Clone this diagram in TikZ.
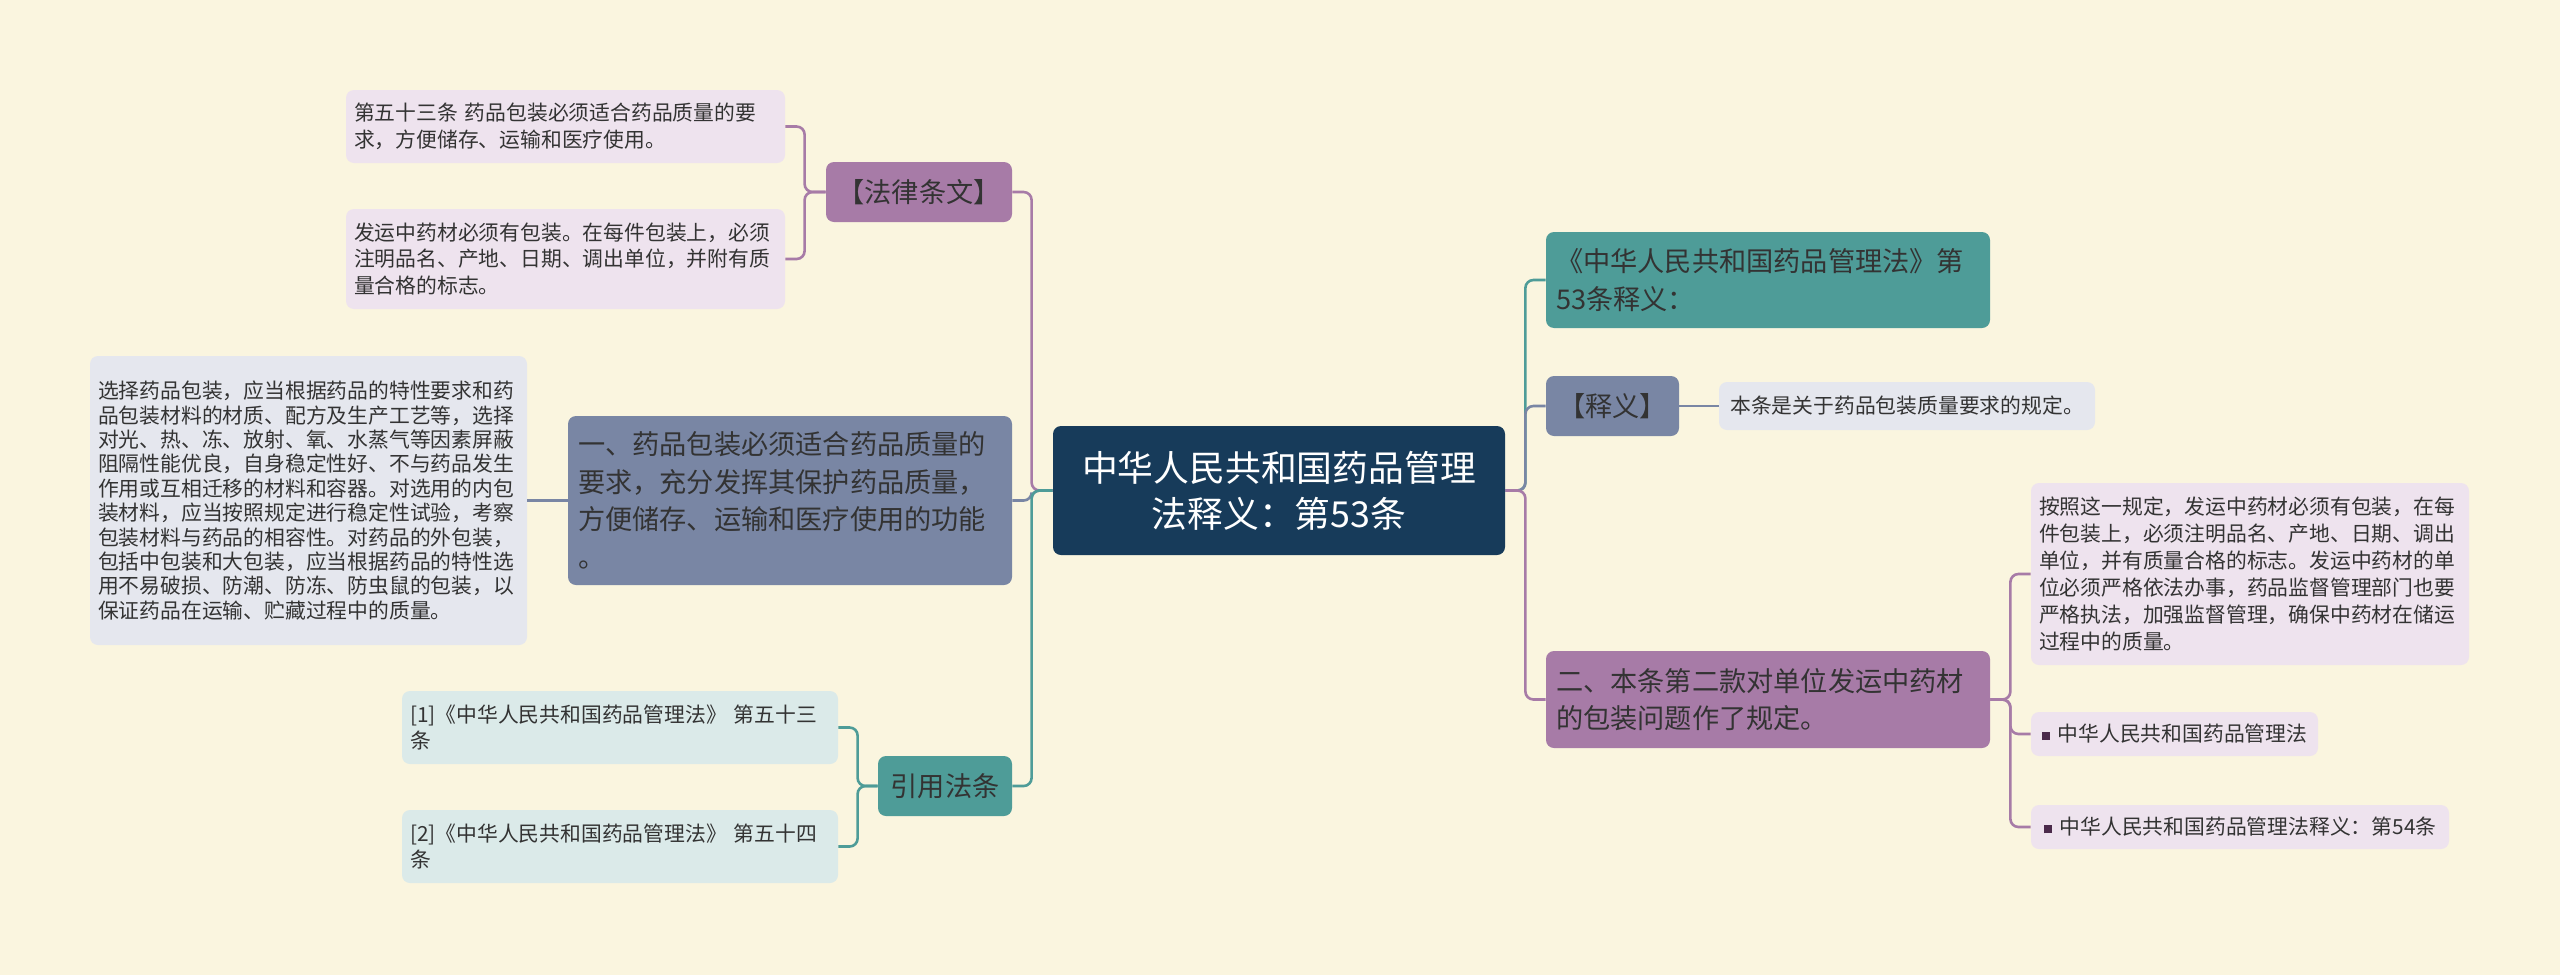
\documentclass[tikz,border=0pt]{standalone}
\usepackage{fontspec}
\setmainfont{Noto Sans CJK SC}
\usetikzlibrary{positioning}

\definecolor{paper}{HTML}{FAF5DF}
\definecolor{navy}{HTML}{173B5A}
\definecolor{plum}{HTML}{A77BA7}
\definecolor{slate}{HTML}{7986A4}
\definecolor{sea}{HTML}{4E9C98}
\definecolor{lplum}{HTML}{EEE3EE}
\definecolor{lslate}{HTML}{E5E7EE}
\definecolor{lsea}{HTML}{DBEAE9}
\definecolor{ink}{HTML}{333333}
\definecolor{dot}{HTML}{4B2A4B}

\newcommand{\sqdot}{\textcolor{dot}{\rule[0.08em]{0.42em}{0.42em}}\hspace{0.35em}}

\begin{document}
\begin{tikzpicture}[x = 0.5pt, y = -0.5pt,
    box/.style = {rounded corners = 4pt, inner xsep = 5pt, inner ysep = 3pt, text = ink, align = left},
    topic/.style = {box, fill = navy, text = white, align = center, font = \fontsize{17.9}{23}\selectfont},
    branch/.style = {box, font = \fontsize{13.6}{18.8}\selectfont},
    leaf/.style = {box, inner xsep = 4pt, font = \fontsize{10.4}{13.4}\selectfont},
    link/.style = {line width = 1.3pt, rounded corners = 4pt}]
            \fill[paper] (0,0) rectangle (2560,975);
            \node[topic, minimum width = 226pt, minimum height = 64.5pt] (root) at (1279,490.5) {中华人民共和国药品管理\\法释义：第53条};

            \node[branch, fill = plum, minimum width = 93pt, minimum height = 30pt] (law) at (919,192) {【法律条文】};
            \node[leaf, fill = lplum, text width = 211.5pt, minimum height = 36.5pt] (law1) at (565.5,126.5) {第五十三条 药品包装必须适合药品质量的要\\求，方便储存、运输和医疗使用。};
            \node[leaf, fill = lplum, text width = 211.5pt, minimum height = 50pt] (law2) at (565.5,259) {发运中药材必须有包装。在每件包装上，必须\\注明品名、产地、日期、调出单位，并附有质\\量合格的标志。};

            \node[branch, fill = slate, text width = 212pt, minimum height = 84.5pt] (one) at (790,500.5) {一、药品包装必须适合药品质量的\\要求，充分发挥其保护药品质量，\\方便储存、运输和医疗使用的功能\\。};
            \node[leaf, fill = lslate, text width = 210.5pt, minimum height = 144.5pt, font = \fontsize{10.4}{12.2}\selectfont] (oneleaf) at (308.5,500.5) {选择药品包装，应当根据药品的特性要求和药\\品包装材料的材质、配方及生产工艺等，选择\\对光、热、冻、放射、氧、水蒸气等因素屏蔽\\阻隔性能优良，自身稳定性好、不与药品发生\\作用或互相迁移的材料和容器。对选用的内包\\装材料，应当按照规定进行稳定性试验，考察\\包装材料与药品的相容性。对药品的外包装，\\包括中包装和大包装，应当根据药品的特性选\\用不易破损、防潮、防冻、防虫鼠的包装，以\\保证药品在运输、贮藏过程中的质量。};

            \node[branch, fill = sea, minimum width = 67pt, minimum height = 30pt] (cite) at (945,786) {引用法条};
            \node[leaf, fill = lsea, text width = 210pt, minimum height = 36.5pt] (ref1) at (620,727.5) {[1]《中华人民共和国药品管理法》 第五十三\\条};
            \node[leaf, fill = lsea, text width = 210pt, minimum height = 36.5pt] (ref2) at (620,846.5) {[2]《中华人民共和国药品管理法》 第五十四\\条};

            \node[branch, fill = sea, text width = 212pt, minimum height = 48pt] (title) at (1768,280) {《中华人民共和国药品管理法》第\\53条释义：};
            \node[branch, fill = slate, minimum width = 66.5pt, minimum height = 30pt] (note) at (1612.5,406) {【释义】};
            \node[leaf, fill = lslate, minimum width = 188pt, minimum height = 24pt] (noteleaf) at (1907,406) {本条是关于药品包装质量要求的规定。};

            \node[branch, fill = plum, text width = 212pt, minimum height = 48.5pt] (two) at (1768,699.5) {二、本条第二款对单位发运中药材\\的包装问题作了规定。};
            \node[leaf, fill = lplum, text width = 211pt, minimum height = 91pt, font = \fontsize{10.4}{13.5}\selectfont] (twoleaf) at (2250,574) {按照这一规定，发运中药材必须有包装，在每\\件包装上，必须注明品名、产地、日期、调出\\单位，并有质量合格的标志。发运中药材的单\\位必须严格依法办事，药品监督管理部门也要\\严格执法，加强监督管理，确保中药材在储运\\过程中的质量。};
            \node[leaf, fill = lplum, minimum width = 143.5pt, minimum height = 22pt] (lawa) at (2174.5,734) {\sqdot 中华人民共和国药品管理法};
            \node[leaf, fill = lplum, minimum width = 209pt, minimum height = 22pt] (lawb) at (2240,827) {\sqdot 中华人民共和国药品管理法释义：第54条};

            \draw[link, plum] (root.west) -- ++(-21,0) |- (law.east);
            \draw[link, slate] (root.west) -- ++(-21,0) |- (one.east);
            \draw[link, sea] (root.west) -- ++(-21,0) |- (cite.east);
            \draw[link, plum] (law.west) -- ++(-21,0) |- (law1.east);
            \draw[link, plum] (law.west) -- ++(-21,0) |- (law2.east);
            \draw[link, slate] (one.west) -- (oneleaf.east);
            \draw[link, sea] (cite.west) -- ++(-20,0) |- (ref1.east);
            \draw[link, sea] (cite.west) -- ++(-20,0) |- (ref2.east);

            \draw[link, sea] (root.east) -- ++(20,0) |- (title.west);
            \draw[link, slate] (root.east) -- ++(20,0) |- (note.west);
            \draw[link, plum] (root.east) -- ++(20,0) |- (two.west);
            \draw[link, slate] (note.east) -- (noteleaf.west);
            \draw[link, plum] (two.east) -- ++(20,0) |- (twoleaf.west);
            \draw[link, plum] (two.east) -- ++(20,0) |- (lawa.west);
            \draw[link, plum] (two.east) -- ++(20,0) |- (lawb.west);
        \end{tikzpicture}
\end{document}
